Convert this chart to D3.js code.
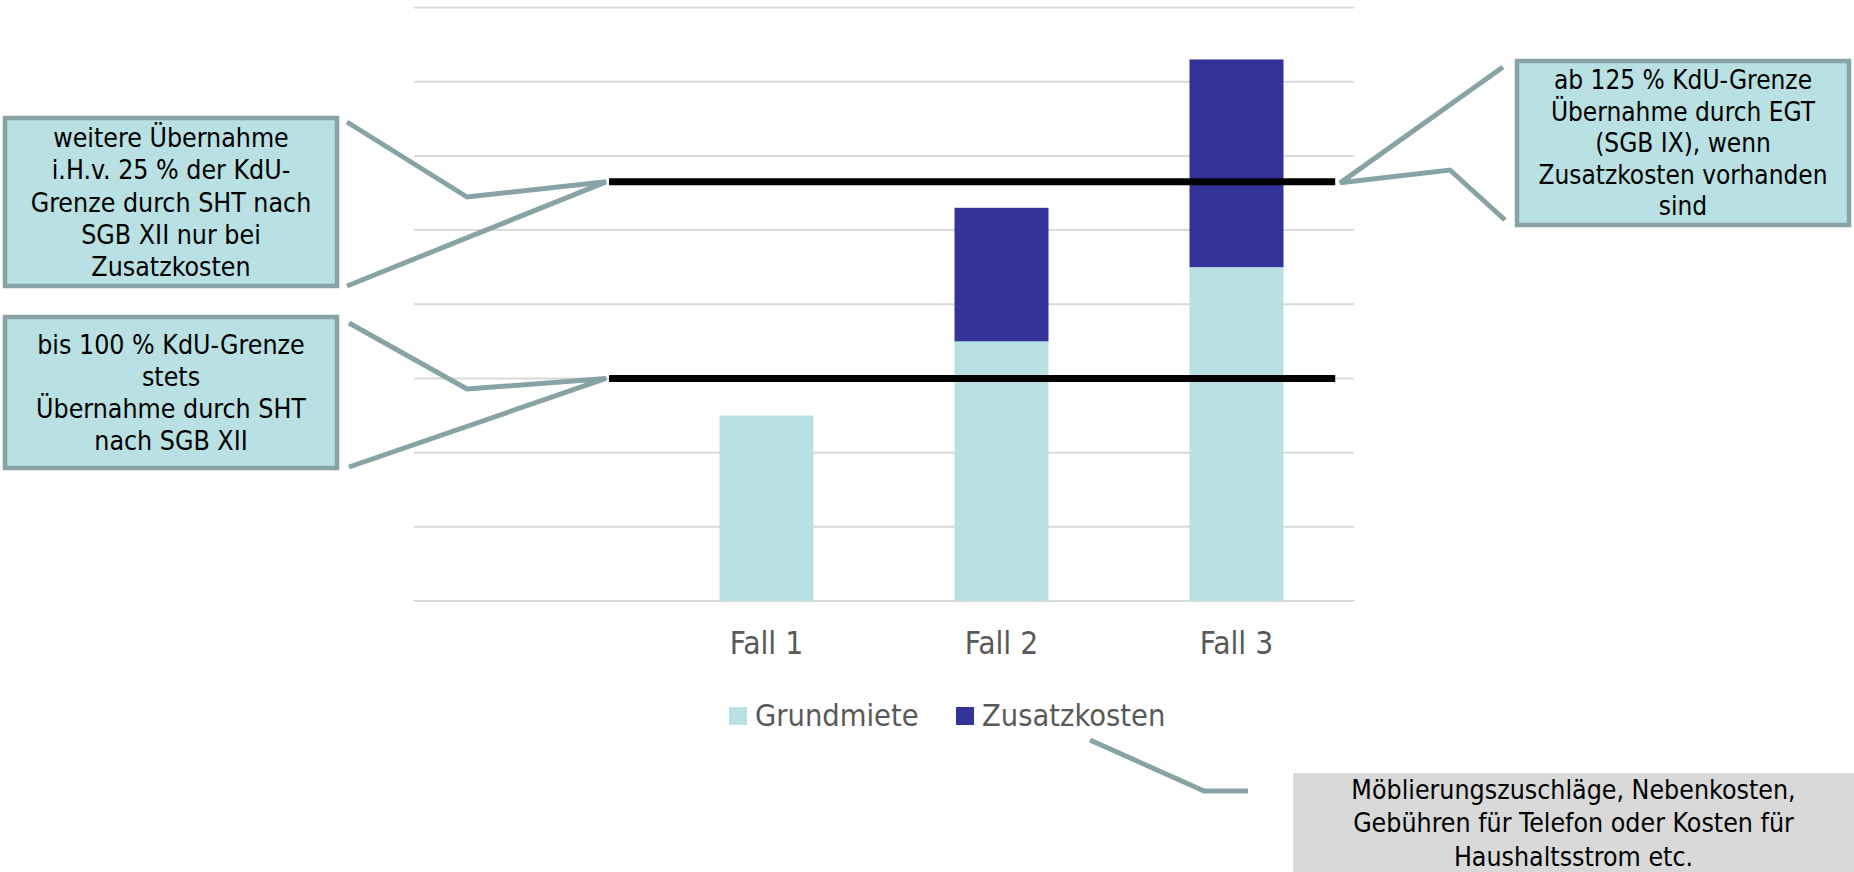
<!DOCTYPE html>
<html>
<head>
<meta charset="utf-8">
<script src="https://cdn.jsdelivr.net/npm/d3@7"></script>
<style>
  html, body { margin: 0; padding: 0; background: #ffffff; }
  svg text { font-family: "DejaVu Sans Condensed", "DejaVu Sans", sans-serif; font-stretch: condensed; }
</style>
</head>
<body>
<svg id="chart" width="1854" height="872"></svg>
<script>
// ---- data ----
const categories = ["", "Fall 1", "Fall 2", "Fall 3"];
const grundmiete = [0, 2.5, 3.5, 4.5];
const zusatzkosten = [0, 0, 1.8, 2.8];
const seriesNames = ["Grundmiete", "Zusatzkosten"];
const seriesColors = ["#b9e0e3", "#333399"];
const yTicks = [0, 1, 2, 3, 4, 5, 6, 7, 8];
// reference lines: value, span in category-index units
const refValues = [3, 5.65];
const refStart = [0.33, 0.33];
const refEnd = [3.42, 3.42];

const box1Lines = ["weitere Übernahme", "i.H.v. 25 % der KdU-", "Grenze durch SHT nach", "SGB XII nur bei", "Zusatzkosten"];
const box2Lines = ["bis 100 % KdU-Grenze", "stets", "Übernahme durch SHT", "nach SGB XII"];
const box3Lines = ["ab 125 % KdU-Grenze", "Übernahme durch EGT", "(SGB IX), wenn", "Zusatzkosten vorhanden", "sind"];
const box4Lines = ["Möblierungszuschläge, Nebenkosten,", "Gebühren für Telefon oder Kosten für", "Haushaltsstrom etc."];

// ---- layout ----
const svg = d3.select("#chart");
const plot = { left: 414, right: 1354, top: 7.5, bottom: 601 };

const x = d3.scaleBand().domain(categories.map((c, i) => i)).range([plot.left, plot.right])
  .paddingInner(0.6).paddingOuter(0.3);
const xIdx = d3.scaleLinear().domain([0, categories.length - 1])
  .range([x(0) + x.bandwidth() / 2, x(categories.length - 1) + x.bandwidth() / 2]);
const y = d3.scaleLinear().domain([0, 8]).range([plot.bottom, plot.top]);

// gridlines
svg.append("g").selectAll("line").data(yTicks).join("line")
  .attr("x1", plot.left).attr("x2", plot.right)
  .attr("y1", d => y(d)).attr("y2", d => y(d))
  .attr("stroke", "#d9d9d9").attr("stroke-width", 2);

// stacked bars
const rows = categories.map((c, i) => ({ i, Grundmiete: grundmiete[i], Zusatzkosten: zusatzkosten[i] }));
const stack = d3.stack().keys(seriesNames)(rows);
svg.append("g").selectAll("g").data(stack).join("g")
  .attr("fill", (d, k) => seriesColors[k])
  .selectAll("rect").data(d => d.filter(p => p[1] - p[0] > 0)).join("rect")
  .attr("x", d => x(d.data.i)).attr("width", x.bandwidth())
  .attr("y", d => y(d[1])).attr("height", d => y(d[0]) - y(d[1]));

// x axis labels
const xAxis = d3.axisBottom(x).tickSize(0).tickFormat(i => categories[i]);
const gx = svg.append("g").attr("transform", `translate(0,${plot.bottom})`).call(xAxis);
gx.select(".domain").remove();
gx.selectAll("text").attr("font-size", 31.5).attr("fill", "#595959")
  .attr("dy", null).attr("y", 53).style("font-family", "'DejaVu Sans Condensed','DejaVu Sans',sans-serif");

// reference lines
svg.append("g").selectAll("line").data(refValues).join("line")
  .attr("x1", (d, k) => xIdx(refStart[k])).attr("x2", (d, k) => xIdx(refEnd[k]))
  .attr("y1", d => y(d)).attr("y2", d => y(d))
  .attr("stroke", "#000").attr("stroke-width", 7);

// legend
const legend = svg.append("g");
const legendX = [729, 956];
seriesNames.forEach((n, k) => {
  legend.append("rect").attr("x", legendX[k]).attr("y", 707).attr("width", 18).attr("height", 18).attr("fill", seriesColors[k]);
  legend.append("text").attr("x", legendX[k] + 26).attr("y", 726).attr("font-size", 30.5).attr("fill", "#595959").text(n);
});

// callout boxes
const lineColor = "#87a3a5";
function textBox(x0, y0, w, h, lines, fill, stroke, fs, lh) {
  const g = svg.append("g");
  g.append("rect").attr("x", x0).attr("y", y0).attr("width", w).attr("height", h)
    .attr("fill", fill).attr("stroke", stroke || "none").attr("stroke-width", stroke ? 4.5 : 0);
  const cy = y0 + h / 2;
  const n = lines.length;
  g.selectAll("text").data(lines).join("text")
    .attr("x", x0 + w / 2).attr("text-anchor", "middle")
    .attr("y", (d, k) => cy + (k - (n - 1) / 2) * lh + fs * 0.36)
    .attr("font-size", fs).attr("fill", "#000").text(d => d);
}
textBox(5, 118, 332, 168, box1Lines, "#b9e0e3", lineColor, 26.5, 32.3);
textBox(5, 317, 332, 151, box2Lines, "#b9e0e3", lineColor, 26.5, 31.8);
textBox(1517, 61, 332, 164, box3Lines, "#b9e0e3", lineColor, 26, 31.5);
textBox(1293, 773, 561, 99, box4Lines, "#d9d9d9", null, 26.5, 33.5);

// leader lines
const lo = { x: xIdx(refStart[0]) - 3, y: y(refValues[0]) };
const hi = { x: xIdx(refStart[1]) - 3, y: y(refValues[1]) };
const hiR = { x: xIdx(refEnd[1]) + 5, y: y(refValues[1]) };
const leaders = [
  [[347, 122], [467, 197], [hi.x, hi.y], [347, 286]],
  [[349, 323], [467, 389], [lo.x, lo.y], [349, 467]],
  [[1503, 67], [hiR.x, hiR.y + 1], [1450, 170], [1505, 220]],
  [[1090, 740], [1204, 791], [1248, 791]]
];
svg.append("g").selectAll("path").data(leaders).join("path")
  .attr("d", d => d3.line()(d))
  .attr("fill", "none").attr("stroke", lineColor).attr("stroke-width", 5)
  .attr("stroke-linejoin", "miter");
</script>
</body>
</html>
